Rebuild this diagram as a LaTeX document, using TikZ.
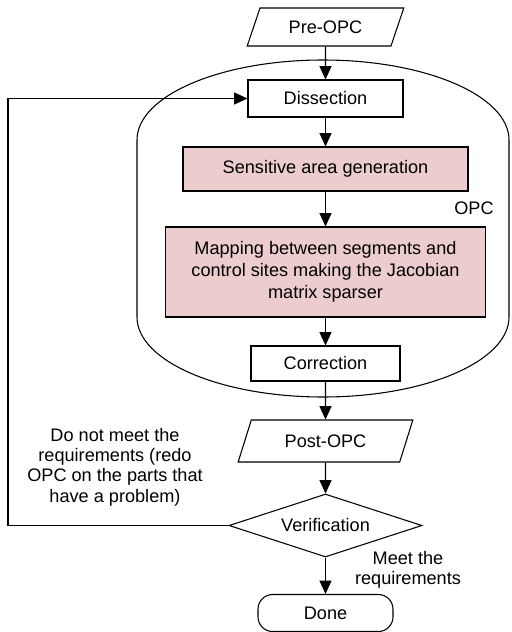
\documentclass[tikz,border=0pt]{standalone}
\usepackage{fontspec}
\setmainfont{Liberation Sans}
\usetikzlibrary{shapes.geometric,arrows.meta,positioning}
\definecolor{senspink}{RGB}{236,204,204}

\begin{document}
\begin{tikzpicture}[x=0.75pt,y=0.75pt,
    font=\fontsize{13.6}{16.3}\selectfont,
    line width=0.8pt,
    box/.style={draw,fill=white,align=center,inner sep=2pt},
    hot/.style={box,fill=senspink},
    data/.style={draw,fill=white,trapezium,trapezium left angle=67,
                 trapezium right angle=113,trapezium stretches=true,inner sep=2pt},
    decision/.style={draw,fill=white,diamond,aspect=3,inner sep=0pt},
    term/.style={draw,fill=white,rounded corners=11pt,inner sep=2pt},
    lbl/.style={align=center,font=\fontsize{13.6}{15.2}\selectfont},
    arr/.style={-{Triangle[length=10pt,width=9pt]}}
  ]
    \useasboundingbox (0,0) rectangle (511,-632);
    % OPC region
    \draw (137,-317) -- (137,-140)
      arc[start angle=180,end angle=90,x radius=186,y radius=80]
      arc[start angle=90,end angle=0,x radius=186,y radius=80] -- (509,-317)
      arc[start angle=0,end angle=-90,x radius=186,y radius=80]
      arc[start angle=-90,end angle=-180,x radius=186,y radius=80] -- cycle;
    \node (opc) at (474,-208) {OPC};
    % flow
    \node[data,minimum width=117.75pt,minimum height=28.5pt] (pre) at (325.5,-27) {Pre-OPC};
    \node[box,minimum width=116.25pt,minimum height=27.75pt] (diss) at (325.5,-98.5) {Dissection};
    \node[hot,minimum width=213.75pt,minimum height=33pt] (sens) at (325.5,-169) {Sensitive area generation};
    \node[hot,minimum width=240pt,minimum height=67.5pt] (map) at (325.5,-272)
      {Mapping between segments and\\control sites making the Jacobian\\matrix sparser};
    \node[box,minimum width=111.75pt,minimum height=26.25pt] (corr) at (325.5,-363.5) {Correction};
    \node[data,minimum width=131.25pt,minimum height=31.5pt] (post) at (325.5,-441) {Post-OPC};
    \node[decision,minimum width=144.75pt,minimum height=47.25pt] (verif) at (325.5,-525.5) {Verification};
    \node[term,minimum width=101.25pt,minimum height=27.75pt] (done) at (325.5,-613) {Done};
    % labels
    \node[lbl] (nomeet) at (115,-467) {Do not meet the\\requirements (redo\\OPC on the parts that\\have a problem)};
    \node[lbl] (meet) at (408,-570) {Meet the\\requirements};
    \coordinate (loop) at (8,-525.5);
    % connectors
    \draw[arr] (pre) -- (diss);
    \draw[arr] (diss) -- (sens);
    \draw[arr] (sens) -- (map);
    \draw[arr] (map) -- (corr);
    \draw[arr] (corr) -- (post);
    \draw[arr] (post) -- (verif);
    \draw[arr] (verif) -- (done);
    \draw[arr] (verif.west) -- (loop) |- (diss.west);
  \end{tikzpicture}
\end{document}
